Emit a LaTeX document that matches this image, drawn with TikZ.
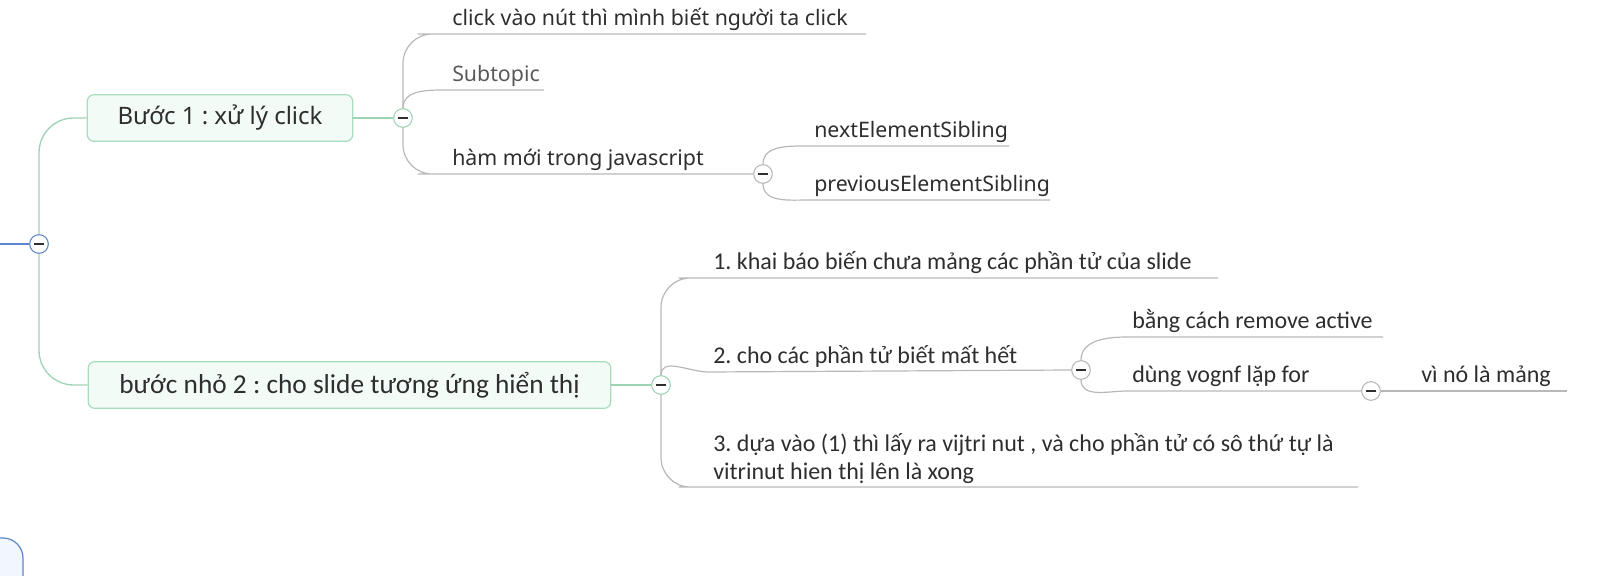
\documentclass[tikz,border=0pt]{standalone}
\usepackage{fontspec}
\setmainfont{Noto Sans}
\newfontfamily\condfont{Carlito}
\definecolor{ink}{HTML}{2E2E2E}
\definecolor{softink}{HTML}{595959}
\definecolor{linegray}{HTML}{B8B8B8}
\definecolor{linegreen}{HTML}{9ED3B3}
\definecolor{boxline}{HTML}{A6DCBD}
\definecolor{boxfill}{HTML}{F3FBF7}
\definecolor{lineblue}{HTML}{5B86C9}
\definecolor{bluefill}{HTML}{F2F6FD}
\frenchspacing

\begin{document}
\begin{tikzpicture}[x=0.75pt,y=0.75pt,
  topic/.style={draw=boxline,fill=boxfill,rounded corners=5pt,line width=0.9pt,minimum height=35pt,text=ink},
  knob/.style={circle,draw=linegray,fill=white,minimum size=14pt,inner sep=0pt,line width=0.8pt,
    path picture={\draw[ink,line width=0.9pt] ([xshift=-3.5pt]path picture bounding box.center) -- ([xshift=3.5pt]path picture bounding box.center);}},
  sub/.style={anchor=south west,inner xsep=3.75pt,inner ysep=2.5pt,text height=12pt,text depth=4pt,align=left,text=ink},
  upfont/.style={font=\fontsize{16}{19}\selectfont},
  lowfont/.style={font=\condfont\fontsize{18}{21}\selectfont},
  gline/.style={draw=linegreen,line width=1pt},
  sline/.style={draw=linegray,line width=0.9pt}]
   \useasboundingbox (0,0) rectangle (1601,575);
   \clip (0,0) rectangle (1601,575);

   \draw[draw=lineblue,fill=bluefill,line width=0.9pt,rounded corners=15pt] (-30,-30) rectangle (23,37);

   \node[knob,draw=lineblue] (root) at (39,331) {};
   \coordinate (in) at (0,331);
   \node[topic,minimum width=199pt,font=\fontsize{18}{21}\selectfont] (s1) at (220,457) {Bước 1 : xử lý click};
   \node[topic,minimum width=392pt,font=\condfont\fontsize{20.5}{24}\selectfont] (s2) at (349.5,190) {bước nhỏ 2 : cho slide tương ứng hiển thị};
   \node[knob,draw=linegreen] (k1) at (403,457) {};
   \node[knob,draw=linegreen] (k2) at (661,190) {};
   \node[knob] (k13) at (763,401) {};
   \node[knob] (k42) at (1081,205) {};
   \node[knob] (k52) at (1371,184) {};

   \node[sub,upfont] (t11) at (447,541) {click vào nút thì mình biết người ta click};
   \node[sub,upfont,text=softink] (t12) at (447,485) {Subtopic};
   \node[sub,upfont] (t13) at (447,401) {hàm mới trong javascript};
   \node[sub,upfont] (t21) at (809,429) {nextElementSibling};
   \node[sub,upfont] (t22) at (809,375) {previousElementSibling};
   \node[sub,lowfont] (t41) at (708,297) {1. khai báo biến chưa mảng các phần tử của slide};
   \node[sub,lowfont] (t42) at (708,203) {2. cho các phần tử biết mất hết};
   \node[anchor=south west,inner xsep=3.75pt,inner ysep=2.5pt,align=left,text=ink,lowfont] (t43) at (708,88)
     {3. dựa vào (1) thì lấy ra vijtri nut , và cho phần tử có sô thứ tự là\\vitrinut hien thị lên là xong};
   \node[sub,lowfont] (t51) at (1127,238) {bằng cách remove active};
   \node[sub,lowfont] (t52) at (1127,184) {dùng vognf lặp for};
   \node[sub,lowfont] (t61) at (1416,184) {vì nó là mảng};

   \coordinate (e11) at (866,541);
   \coordinate (e12) at (544,485);
   \coordinate (e21) at (1009,429);
   \coordinate (e22) at (1050,375);
   \coordinate (e41) at (1218,297);
   \coordinate (e43) at (1358,88);
   \coordinate (e51) at (1383,238);
   \coordinate (e61) at (1567,184);

   \draw[draw=lineblue,line width=1pt] (in) -- (root.west);
   \draw[gline,rounded corners=26pt] (root.north) |- (s1.west);
   \draw[gline,rounded corners=26pt] (root.south) |- (s2.west);
   \draw[gline] (s1.east) -- (k1.west);
   \draw[gline] (s2.east) -- (k2.west);

   \draw[sline,rounded corners=22pt] (k1.north) |- (t11.south west) -- (e11);
   \draw[sline] (k1.north) to[out=90,in=180] (t12.south west) -- (e12);
   \draw[sline,rounded corners=22pt] (k1.south) |- (t13.south west) -- (k13.west);
   \draw[sline] (k13.north) to[out=90,in=180] (t21.south west) -- (e21);
   \draw[sline] (k13.south) to[out=-90,in=180] (t22.south west) -- (e22);

   \draw[sline,rounded corners=22pt] (k2.north) |- (t41.south west) -- (e41);
   \draw[sline] (k2.north) to[out=90,in=180] (t42.south west) -- (k42.west);
   \draw[sline,rounded corners=22pt] (k2.south) |- (t43.south west) -- (e43);
   \draw[sline] (k42.north) to[out=90,in=180] (t51.south west) -- (e51);
   \draw[sline] (k42.south) to[out=-90,in=180] (t52.south west) -- (k52.west);
   \draw[sline] (k52.east) -- (t61.south west) -- (e61);
\end{tikzpicture}
\end{document}
